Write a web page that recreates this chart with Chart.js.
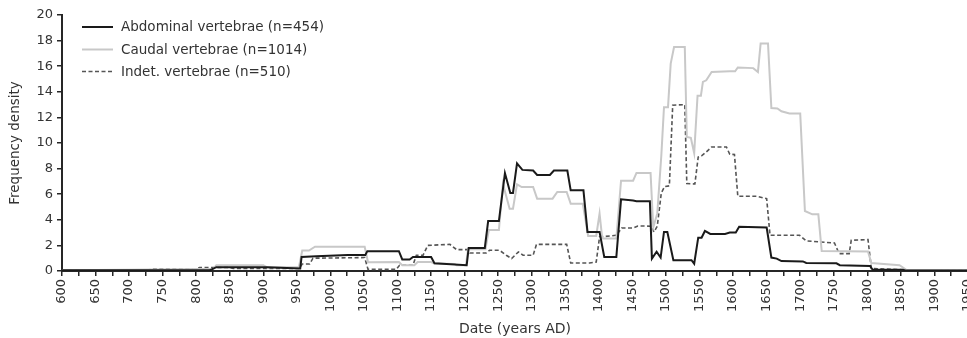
<!DOCTYPE html>
<html>
<head>
<meta charset="utf-8">
<script src="https://cdn.jsdelivr.net/npm/chart.js@4/dist/chart.umd.min.js"></script>
<style>
  html, body { margin: 0; padding: 0; background: #fff; overflow: hidden; }
</style>
</head>
<body>
<canvas id="vertChart" width="990" height="338"></canvas>
<script>
// values (frequency density per year)
var seriesNames = ['Abdominal vertebrae (n=454)', 'Caudal vertebrae (n=1014)', 'Indet. vertebrae (n=510)'];

var abdYears = [600, 820, 830, 905, 955, 957, 979, 1026, 1052, 1055,
    1102, 1107, 1118, 1123, 1150, 1155, 1203, 1206, 1230, 1235,
    1251, 1260, 1268, 1272, 1278, 1286, 1302, 1308, 1327, 1333,
    1353, 1358, 1377, 1383, 1401, 1408, 1426, 1433, 1451, 1456,
    1476, 1479, 1486, 1492, 1497, 1502, 1511, 1538, 1542, 1548,
    1553, 1558, 1566, 1588, 1595, 1604, 1609, 1650, 1657, 1665,
    1672, 1704, 1709, 1754, 1759, 1804, 1808, 1853, 1858, 1950];
var abdValues = [0.05, 0.05, 0.3, 0.3, 0.2, 1.1, 1.15, 1.25, 1.25, 1.55,
    1.55, 0.9, 0.9, 1.1, 1.1, 0.6, 0.45, 1.8, 1.8, 3.9,
    3.9, 7.65, 6.1, 6.1, 8.4, 7.9, 7.85, 7.5, 7.5, 7.85,
    7.85, 6.3, 6.3, 3.05, 3.05, 1.1, 1.1, 5.6, 5.5, 5.45,
    5.45, 0.97, 1.5, 1.05, 3.05, 3.05, 0.84, 0.84, 0.57, 2.6,
    2.6, 3.13, 2.9, 2.9, 3.0, 3.0, 3.45, 3.4, 1.05, 0.97,
    0.78, 0.75, 0.63, 0.6, 0.45, 0.4, 0.1, 0.1, 0.03, 0.03];

var caudYears = [600, 700, 800, 825, 830, 900, 905, 953, 958, 968,
    977, 1051, 1056, 1102, 1107, 1125, 1130, 1150, 1155, 1185,
    1188, 1202, 1205, 1231, 1236, 1251, 1257, 1267, 1272, 1278,
    1285, 1302, 1308, 1331, 1338, 1352, 1358, 1376, 1384, 1396,
    1401, 1405, 1426, 1433, 1451, 1456, 1477, 1481, 1487, 1493,
    1497, 1503, 1507, 1512, 1528, 1531, 1537, 1542, 1547, 1552,
    1555, 1560, 1568, 1595, 1603, 1607, 1630, 1637, 1641, 1652,
    1657, 1666, 1672, 1684, 1700, 1707, 1718, 1727, 1732, 1801,
    1806, 1848, 1858, 1950];
var caudValues = [0.05, 0.1, 0.15, 0.15, 0.45, 0.45, 0.3, 0.3, 1.6, 1.6,
    1.9, 1.9, 0.68, 0.7, 0.45, 0.45, 0.7, 0.7, 0.58, 0.55,
    0.45, 0.45, 1.7, 1.7, 3.2, 3.2, 6.8, 4.87, 4.87, 6.77,
    6.56, 6.56, 5.65, 5.65, 6.17, 6.17, 5.26, 5.26, 2.74, 2.74,
    4.48, 2.53, 2.53, 7.05, 7.05, 7.66, 7.66, 3.4, 4.5, 9.0,
    12.8, 12.8, 16.2, 17.5, 17.5, 10.47, 10.4, 9.2, 13.7, 13.7,
    14.77, 14.9, 15.55, 15.6, 15.6, 15.9, 15.85, 15.55, 17.77, 17.77,
    12.73, 12.7, 12.48, 12.3, 12.3, 4.69, 4.43, 4.43, 1.56, 1.53,
    0.63, 0.45, 0.1, 0.05];

var indYears = [600, 650, 655, 730, 735, 800, 805, 850, 855, 954,
    958, 969, 974, 1051, 1056, 1098, 1103, 1123, 1128, 1138,
    1145, 1178, 1188, 1205, 1208, 1232, 1237, 1252, 1262, 1270,
    1280, 1287, 1302, 1307, 1352, 1358, 1386, 1396, 1401, 1426,
    1434, 1451, 1458, 1478, 1482, 1487, 1493, 1498, 1505, 1510,
    1528, 1531, 1543, 1548, 1553, 1560, 1568, 1590, 1595, 1602,
    1607, 1635, 1650, 1655, 1699, 1709, 1751, 1758, 1773, 1776,
    1801, 1806, 1853, 1858, 1950];
var indValues = [0.02, 0.05, 0.1, 0.1, 0.15, 0.15, 0.27, 0.27, 0.2, 0.2,
    0.55, 0.55, 1.0, 1.05, 0.13, 0.13, 0.45, 0.45, 1.23, 1.23,
    2.0, 2.08, 1.67, 1.67, 1.41, 1.41, 1.62, 1.62, 1.23, 0.97,
    1.49, 1.23, 1.23, 2.08, 2.08, 0.63, 0.63, 0.7, 2.66, 2.79,
    3.36, 3.36, 3.52, 3.5, 3.05, 3.5, 6.1, 6.6, 6.65, 12.95,
    13.0, 6.83, 6.8, 8.9, 9.0, 9.3, 9.69, 9.69, 9.12, 9.1,
    5.84, 5.84, 5.65, 2.79, 2.79, 2.35, 2.19, 1.36, 1.36, 2.4,
    2.45, 0.19, 0.1, 0.03, 0.03];

var xMin = 600, xMax = 1950, xStep = 25, xLabelStep = 50;
var yMin = 0, yMax = 20, yStep = 2;

function toPoints(years, values) {
    return years.map(function(y, i) { return { x: y, y: values[i] }; });
}

var fontName = '"DejaVu Sans", sans-serif';
var axisColor = '#262626';
var textColor = '#333333';

// legend drawn inside the plot, top left
var insideLegend = {
    id: 'insideLegend',
    afterDraw: function(chart) {
        var ctx = chart.ctx;
        var rows = [27, 49.5, 71.5];
        ctx.save();
        ctx.font = '13.5px ' + fontName;
        ctx.textBaseline = 'middle';
        ctx.fillStyle = textColor;
        chart.data.datasets.forEach(function(ds, i) {
            ctx.beginPath();
            ctx.strokeStyle = ds.borderColor;
            ctx.lineWidth = ds.borderWidth;
            ctx.setLineDash(ds.borderDash || []);
            ctx.moveTo(82, rows[i]);
            ctx.lineTo(113, rows[i]);
            ctx.stroke();
            ctx.fillText(ds.label, 121, rows[i] + 0.5);
        });
        ctx.restore();
    }
};

new Chart(document.getElementById('vertChart'), {
    type: 'line',
    data: {
        datasets: [{
            label: seriesNames[0],
            data: toPoints(abdYears, abdValues),
            borderColor: '#1a1a1a',
            borderWidth: 2
        }, {
            label: seriesNames[1],
            data: toPoints(caudYears, caudValues),
            borderColor: '#c8c8c8',
            borderWidth: 2
        }, {
            label: seriesNames[2],
            data: toPoints(indYears, indValues),
            borderColor: '#555555',
            borderWidth: 1.6,
            borderDash: [4, 2.5]
        }]
    },
    options: {
        responsive: false,
        animation: false,
        events: [],
        layout: { padding: { top: 15, right: 22, left: 0, bottom: 0 } },
        elements: {
            point: { radius: 0 },
            line: { tension: 0, fill: false }
        },
        plugins: {
            legend: { display: false },
            tooltip: { enabled: false }
        },
        scales: {
            x: {
                type: 'linear',
                min: xMin,
                max: xMax,
                afterFit: function(scale) { scale.height = 67; },
                grid: { drawOnChartArea: false, drawTicks: true, tickLength: 5, color: axisColor, lineWidth: 1.5 },
                border: { display: true, color: axisColor, width: 2 },
                ticks: {
                    stepSize: xStep,
                    autoSkip: false,
                    minRotation: 90,
                    maxRotation: 90,
                    padding: 3,
                    color: textColor,
                    font: { family: fontName, size: 13 },
                    callback: function(v) { return v % xLabelStep === 0 ? String(v) : ''; }
                },
                title: {
                    display: true,
                    text: 'Date (years AD)',
                    color: textColor,
                    padding: { top: 0, bottom: 0 },
                    font: { family: fontName, size: 14 }
                }
            },
            y: {
                min: yMin,
                max: yMax,
                afterFit: function(scale) { scale.width = 62; },
                grid: { drawOnChartArea: false, drawTicks: true, tickLength: 5, color: axisColor, lineWidth: 1.5 },
                border: { display: true, color: axisColor, width: 2 },
                ticks: {
                    stepSize: yStep,
                    padding: 4,
                    color: textColor,
                    font: { family: fontName, size: 13 }
                },
                title: {
                    display: true,
                    text: 'Frequency density',
                    color: textColor,
                    padding: { top: 7, bottom: 0 },
                    font: { family: fontName, size: 13.5 }
                }
            }
        }
    },
    plugins: [insideLegend]
});
</script>
</body>
</html>
